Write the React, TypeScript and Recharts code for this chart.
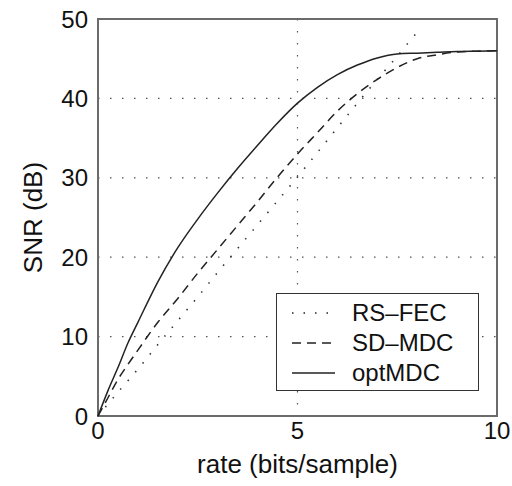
import { LineChart, Line, XAxis, YAxis, CartesianGrid, ReferenceArea, Legend } from 'recharts'

// rate (bits/sample) and SNR (dB)
const rate = [0, 0.25, 0.5, 0.75, 1, 1.5, 2, 2.5, 3, 3.5, 4, 4.5, 5, 5.5, 6, 6.5, 7, 7.5, 8, 8.5, 9, 9.5, 10]
const optMDC = [0, 3.2, 6.1, 9.2, 11.8, 16.9, 21.2, 24.8, 28.1, 31.2, 34.1, 36.9, 39.4, 41.4, 43.0, 44.2, 45.1, 45.6, 45.7, 45.8, 45.9, 45.95, 46.0]
const sdMDC = [0, 2.3, 4.6, 6.5, 8.3, 11.8, 14.8, 18.0, 21.0, 24.0, 27.0, 30.1, 33.0, 35.7, 38.4, 40.6, 42.4, 43.9, 45.0, 45.5, 45.85, 45.95, 46.0]

const rsRate = [0, 0.5, 1, 1.5, 2, 2.5, 3, 3.5, 4, 4.5, 5, 5.5, 6, 6.5, 7, 7.5, 8, 8.1]
const rsFEC = [0, 3.0, 5.9, 9.0, 12.0, 15.0, 18.1, 21.1, 24.1, 27.1, 30.1, 33.2, 36.3, 39.4, 42.4, 45.3, 48.3, 48.8]

const xTicks = [0, 5, 10]
const yTicks = [0, 10, 20, 30, 40, 50]

const FONT = '"Liberation Sans", Arial, Helvetica, sans-serif'

const optData = rate.map((r, i) => ({ rate: r, snr: optMDC[i] }))
const sdData = rate.map((r, i) => ({ rate: r, snr: sdMDC[i] }))
const rsData = rsRate.map((r, i) => ({ rate: r, snr: rsFEC[i] }))

const DASHES: Record<string, string | undefined> = {
  'RS–FEC': '1.5 10',
  'SD–MDC': '9 6',
  optMDC: undefined,
}

function LegendBox({ payload }: any) {
  const items = (payload || []) as Array<{ value: string }>
  return (
    <div
      style={{
        width: 203,
        height: 98,
        boxSizing: 'border-box',
        border: '1px solid #333',
        background: '#fff',
        paddingTop: 4,
        fontFamily: FONT,
        fontSize: 24,
        color: '#111',
      }}
    >
      {items.map((entry) => (
        <div key={entry.value} style={{ display: 'flex', alignItems: 'center', height: 30 }}>
          <svg width={43} height={4} style={{ marginLeft: 15, marginRight: 17 }}>
            <line
              x1={0}
              y1={2}
              x2={43}
              y2={2}
              stroke="#222"
              strokeWidth={1.4}
              strokeDasharray={DASHES[entry.value]}
            />
          </svg>
          <span style={{ lineHeight: '30px' }}>{entry.value}</span>
        </div>
      ))}
    </div>
  )
}

export default function App() {
  return (
    <div style={{ position: 'absolute', left: 0, top: 0, background: '#fff' }}>
      <LineChart width={512} height={486} margin={{ top: 19, right: 15, bottom: 10, left: 0 }}>
        <CartesianGrid stroke="#555" strokeDasharray="1.5 10.5" strokeWidth={1.2} />
        <XAxis
          type="number"
          dataKey="rate"
          domain={[0, 10]}
          ticks={xTicks}
          axisLine={false}
          tickLine={false}
          tickSize={0}
          tickMargin={6}
          height={60}
          tick={{ fill: '#111', fontSize: 24, fontFamily: FONT }}
          label={{
            value: 'rate (bits/sample)',
            position: 'insideBottom',
            offset: 3,
            fill: '#111',
            fontSize: 26,
            fontFamily: FONT,
          }}
        />
        <YAxis
          type="number"
          domain={[0, 50]}
          ticks={yTicks}
          axisLine={false}
          tickLine={false}
          tickSize={0}
          tickMargin={10}
          width={98}
          tick={{ fill: '#111', fontSize: 24, fontFamily: FONT }}
          label={{
            value: 'SNR (dB)',
            content: ({ viewBox }: any) => {
              const cx = 33
              const cy = viewBox.y + viewBox.height / 2
              return (
                <text
                  x={cx}
                  y={cy}
                  transform={`rotate(-90, ${cx}, ${cy})`}
                  textAnchor="middle"
                  dominantBaseline="central"
                  fill="#111"
                  fontSize={26}
                  fontFamily={FONT}
                >
                  SNR (dB)
                </text>
              )
            },
          }}
        />
        <Line
          data={rsData}
          dataKey="snr"
          name="RS–FEC"
          type="monotone"
          stroke="#333"
          strokeWidth={1.6}
          strokeDasharray="1.5 10"
          dot={false}
          isAnimationActive={false}
        />
        <Line
          data={sdData}
          dataKey="snr"
          name="SD–MDC"
          type="monotone"
          stroke="#222"
          strokeWidth={1.5}
          strokeDasharray="9 6"
          dot={false}
          isAnimationActive={false}
        />
        <Line
          data={optData}
          dataKey="snr"
          name="optMDC"
          type="monotone"
          stroke="#222"
          strokeWidth={1.5}
          dot={false}
          isAnimationActive={false}
        />
        <ReferenceArea x1={0} x2={10} y1={0} y2={50} fill="none" stroke="#6b6b6b" strokeWidth={2} />
        <Legend
          layout="vertical"
          align="center"
          verticalAlign="middle"
          content={<LegendBox />}
          wrapperStyle={{ left: 276, top: 293, width: 203, height: 98 }}
        />
      </LineChart>
    </div>
  )
}
